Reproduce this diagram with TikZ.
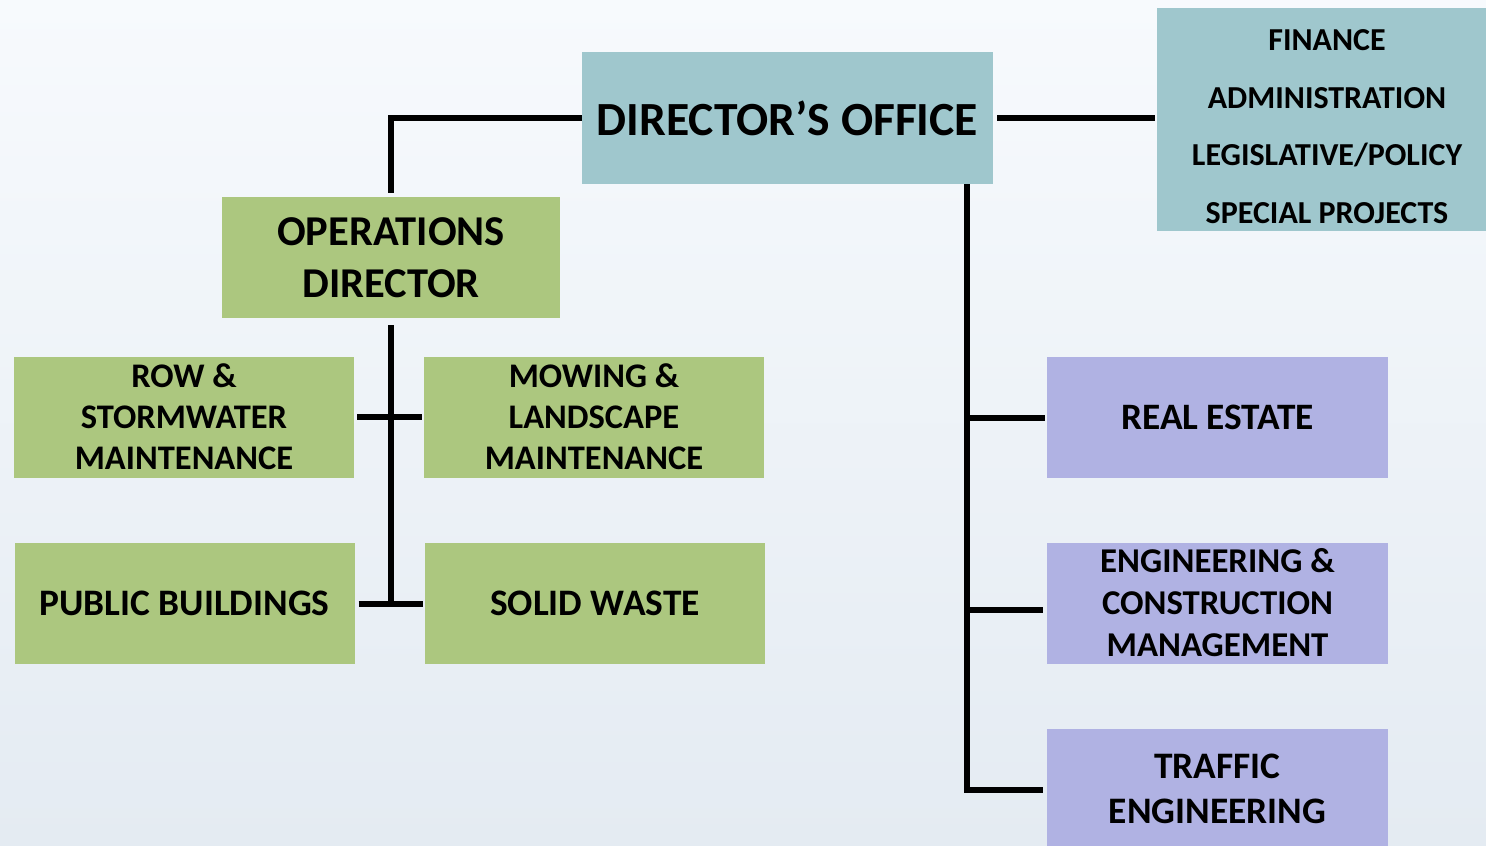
\documentclass[tikz,border=0pt]{standalone}
\usepackage{fontspec}
\setmainfont{Carlito}
\usetikzlibrary{calc}
\definecolor{bgtop}{HTML}{F7FAFD}
\definecolor{bgbot}{HTML}{E4EBF2}
\definecolor{officeteal}{HTML}{9FC7CD}
\definecolor{opsgreen}{HTML}{ACC77F}
\definecolor{engpurple}{HTML}{B0B2E3}
\begin{document}
\begin{tikzpicture}[x=1pt,y=-1pt,
  box/.style={rectangle, inner sep=0pt, align=center, text=black},
  office/.style={box, fill=officeteal},
  opsbox/.style={box, fill=opsgreen, minimum width=340pt, minimum height=121pt,
    font=\bfseries\fontsize{34.5}{41}\selectfont},
  engbox/.style={box, fill=engpurple, minimum width=341pt, minimum height=121pt,
    font=\bfseries\fontsize{34.8}{42}\selectfont},
  link/.style={draw=black, line width=6pt}]
% page area and backdrop
\clip (0,0) rectangle (1486,846);
\shade[top color=bgtop, bottom color=bgbot] (0,0) rectangle (1486,846);

% director's office and staff functions
\node[office, minimum width=411pt, minimum height=132pt,
  font=\bfseries\fontsize{47.6}{51}\selectfont] (dir) at (787.5,118) {DIRECTOR’S OFFICE};
\node[office, minimum width=340pt, minimum height=223pt] (fin) at (1327,119.5) {};
\node[box, font=\bfseries\fontsize{32}{57.7}\selectfont] (finlist) at ([yshift=-7pt]fin.center)
  {FINANCE\\ADMINISTRATION\\LEGISLATIVE/POLICY\\SPECIAL PROJECTS};

% operations branch
\node[opsbox, minimum width=338pt, font=\bfseries\fontsize{42.5}{52}\selectfont] (ops) at (391,257.5)
  {OPERATIONS\\DIRECTOR};
\node[opsbox] (row) at (184,417) {ROW \&\\STORMWATER\\MAINTENANCE};
\node[opsbox] (mow) at (594,417) {MOWING \&\\LANDSCAPE\\MAINTENANCE};
\node[opsbox, font=\bfseries\fontsize{37.4}{41}\selectfont] (pb) at (184.5,603) {PUBLIC BUILDINGS};
\node[opsbox, font=\bfseries\fontsize{37.4}{41}\selectfont] (sw) at (595,603) {SOLID WASTE};

% engineering branch
\node[engbox, font=\bfseries\fontsize{37.3}{43}\selectfont] (re) at (1217.5,417.5) {REAL ESTATE};
\node[engbox] (eng) at (1217.5,603) {ENGINEERING \&\\CONSTRUCTION\\MANAGEMENT};
\node[engbox, font=\bfseries\fontsize{37.4}{45}\selectfont] (tr) at (1217.5,789) {TRAFFIC\\ENGINEERING};

% connectors
\draw[link] (dir.west) -| ([yshift=4pt]ops.north);
\draw[link] ([xshift=4pt]dir.east) -- ([xshift=-2pt]fin.west |- dir.east);
\coordinate (trunk) at ($(dir.south east)+(-26,0)$);
\draw[link] (trunk) |- ([xshift=-4pt,yshift=-1pt]tr.west);
\draw[link] (trunk |- re.west) -- ([xshift=-2pt]re.west);
\draw[link] ($(trunk |- eng.west)+(0,7)$) -- ([xshift=-4pt,yshift=-7pt]eng.west);

\draw[link] ([yshift=-7pt]ops.south) -- (ops.south |- pb.east);
\draw[link] ([xshift=3pt]row.east) -- ([xshift=-2pt]mow.west);
\draw[link] ([xshift=4pt,yshift=-1pt]pb.east) -- ([xshift=-2pt,yshift=-1pt]sw.west);
\end{tikzpicture}
\end{document}
